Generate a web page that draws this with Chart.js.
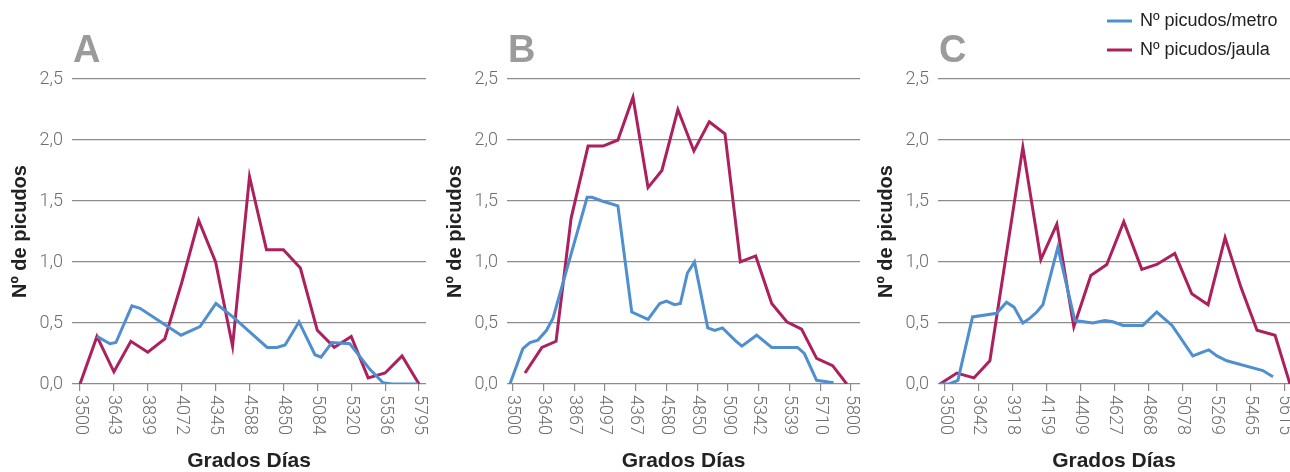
<!DOCTYPE html>
<html>
<head>
<meta charset="utf-8">
<script src="https://cdn.jsdelivr.net/npm/chart.js@4"></script>
<style>
  body { margin: 0; background: #fff; }
  #wrap { position: relative; width: 1290px; height: 472px; }
  canvas { position: absolute; top: 0; }
</style>
</head>
<body>
<div id="wrap">
  <canvas id="chartA" width="435" height="472" style="left:0px"></canvas>
  <canvas id="chartB" width="431" height="472" style="left:435px"></canvas>
  <canvas id="chartC" width="424" height="472" style="left:866px"></canvas>
</div>
<script>
// tick labels (Grados Días) for each panel, one per category slot
const labelsA = ['3500', '3643', '3839', '4072', '4345', '4588', '4850', '5084', '5320', '5536', '5795'];
const labelsB = ['3500', '3640', '3867', '4097', '4367', '4580', '4850', '5090', '5342', '5539', '5710', '5800'];
const labelsC = ['3500', '3642', '3918', '4159', '4409', '4627', '4868', '5078', '5269', '5465', '5615'];

// positions are in category slots (0 = first label), values are picudos
const metroPosA = [0.5, 0.88, 1.06, 1.53, 1.77, 2.98, 3.54, 4.01, 4.51, 5.52, 5.81, 6.05, 6.46, 6.93, 7.11, 7.43, 7.96, 8.55, 8.94, 9.2, 9.97];
const metroA    = [0.39, 0.33, 0.34, 0.64, 0.62, 0.40, 0.47, 0.66, 0.55, 0.30, 0.30, 0.32, 0.51, 0.24, 0.22, 0.34, 0.33, 0.12, 0.01, 0.0, 0.0];
const jaulaPosA = [0, 0.5, 1, 1.5, 2, 2.5, 3, 3.5, 4, 4.5, 5, 5.5, 6, 6.5, 7, 7.5, 8, 8.5, 9, 9.5, 10];
const jaulaA    = [0, 0.39, 0.10, 0.35, 0.26, 0.37, 0.83, 1.34, 1.0, 0.31, 1.70, 1.10, 1.10, 0.95, 0.44, 0.30, 0.39, 0.05, 0.09, 0.23, 0.0];

const metroPosB = [-0.09, 0.33, 0.56, 0.82, 1.1, 1.31, 2.42, 2.58, 2.9, 3.42, 3.87, 4.4, 4.78, 5.0, 5.26, 5.45, 5.68, 5.91, 6.34, 6.57, 6.82, 7.22, 7.45, 7.93, 8.42, 9.26, 9.48, 9.88, 10.43];
const metroB    = [0, 0.29, 0.34, 0.36, 0.44, 0.54, 1.53, 1.53, 1.50, 1.46, 0.59, 0.53, 0.66, 0.68, 0.65, 0.66, 0.91, 1.0, 0.46, 0.44, 0.46, 0.36, 0.31, 0.40, 0.30, 0.30, 0.25, 0.03, 0.01];
const jaulaPosB = [0.4, 0.95, 1.41, 1.9, 2.45, 2.94, 3.42, 3.91, 4.4, 4.85, 5.37, 5.89, 6.39, 6.9, 7.4, 7.9, 8.42, 8.91, 9.39, 9.88, 10.4, 10.86];
const jaulaB    = [0.09, 0.30, 0.35, 1.36, 1.95, 1.95, 2.0, 2.35, 1.61, 1.75, 2.25, 1.91, 2.15, 2.05, 1.0, 1.05, 0.66, 0.51, 0.45, 0.21, 0.15, 0.0];

const metroPosC = [-0.15, 0.12, 0.38, 0.81, 1.52, 1.81, 2.03, 2.29, 2.5, 2.7, 2.88, 3.32, 3.82, 4.35, 4.7, 4.94, 5.24, 5.53, 5.82, 6.23, 6.68, 7.29, 7.56, 7.76, 8.0, 8.29, 9.35, 9.65];
const metroC    = [0, 0, 0.03, 0.55, 0.58, 0.67, 0.63, 0.50, 0.54, 0.59, 0.65, 1.12, 0.52, 0.50, 0.52, 0.51, 0.48, 0.48, 0.48, 0.59, 0.48, 0.23, 0.26, 0.28, 0.23, 0.19, 0.11, 0.06];
const jaulaPosC = [-0.15, 0.35, 0.85, 1.32, 2.29, 2.82, 3.29, 3.79, 4.29, 4.76, 5.26, 5.79, 6.23, 6.76, 7.26, 7.74, 8.24, 8.71, 9.18, 9.71, 10.15];
const jaulaC    = [0, 0.09, 0.05, 0.19, 1.94, 1.02, 1.31, 0.47, 0.89, 0.98, 1.33, 0.94, 0.98, 1.07, 0.74, 0.65, 1.20, 0.79, 0.44, 0.40, 0.0];

const yTicks = [0, 0.5, 1, 1.5, 2, 2.5];
const seriesNames = ['Nº picudos/metro', 'Nº picudos/jaula'];

const BLUE = '#4f8fcf';
const RED = '#ac215d';
const GRID = '#8c8c8c';
const LIGHT = "300 18px 'Roboto', 'Liberation Sans', sans-serif";
const BOLD = "'Liberation Sans', Arial, sans-serif";

function points(xs, ys) {
  return xs.map((x, i) => ({ x: x, y: ys[i] }));
}

// panel letter, rotated x tick labels and (optionally) the legend
const panelDecor = {
  id: 'panelDecor',
  afterDraw(chart, args, opts) {
    const ctx = chart.ctx;
    const area = chart.chartArea;
    const xs = chart.scales.x;
    ctx.save();
    ctx.fillStyle = '#9b9b9b';
    ctx.font = 'bold 38px ' + BOLD;
    ctx.textAlign = 'left';
    ctx.textBaseline = 'alphabetic';
    ctx.fillText(opts.letter, area.left + 1, 62);

    ctx.fillStyle = '#6e6e6e';
    ctx.font = LIGHT;
    ctx.textBaseline = 'middle';
    opts.labels.forEach((lab, i) => {
      const px = xs.getPixelForValue(i);
      ctx.save();
      ctx.translate(px, area.bottom + 11);
      ctx.rotate(Math.PI / 2);
      ctx.fillText(lab, 0, 0);
      ctx.restore();
    });

    if (opts.legend) {
      ctx.font = "18px 'Liberation Sans', Arial, sans-serif";
      ctx.textBaseline = 'middle';
      chart.data.datasets.forEach((ds, i) => {
        const y = 21 + i * 29;
        ctx.strokeStyle = ds.borderColor;
        ctx.lineWidth = 3;
        ctx.beginPath();
        ctx.moveTo(opts.legend.x, y);
        ctx.lineTo(opts.legend.x + 25, y);
        ctx.stroke();
        ctx.fillStyle = '#222';
        ctx.fillText(ds.label, opts.legend.x + 33, y);
      });
    }
    ctx.restore();
  }
};

function makePanel(id, letter, labels, mPos, mVals, jPos, jVals, xMin, xMax, padRight, legend) {
  const ctx = document.getElementById(id).getContext('2d');
  return new Chart(ctx, {
    type: 'line',
    data: {
      datasets: [{
        label: seriesNames[0],
        data: points(mPos, mVals),
        borderColor: BLUE,
        backgroundColor: BLUE,
        borderWidth: 3,
        pointRadius: 0,
        tension: 0
      },
      {
        label: seriesNames[1],
        data: points(jPos, jVals),
        borderColor: RED,
        backgroundColor: RED,
        borderWidth: 3,
        pointRadius: 0,
        tension: 0
      }]
    },
    options: {
      responsive: false,
      animation: false,
      layout: { padding: { top: 79, right: padRight, left: 0, bottom: 0 } },
      plugins: {
        legend: { display: false },
        tooltip: { enabled: false },
        panelDecor: { letter: letter, labels: labels, legend: legend }
      },
      scales: {
        x: {
          type: 'linear',
          min: xMin,
          max: xMax,
          afterBuildTicks: (scale) => { scale.ticks = labels.map((_, i) => ({ value: i })); },
          afterFit: (scale) => { scale.height = 88; },
          ticks: { display: false },
          grid: { drawOnChartArea: false, drawTicks: true, tickLength: 7, color: GRID, lineWidth: 1.2 },
          border: { display: false },
          title: {
            display: true,
            text: 'Grados Días',
            color: '#222',
            font: { family: BOLD, size: 21, weight: 'bold', lineHeight: 1 },
            padding: { top: 0, bottom: 0 }
          }
        },
        y: {
          min: 0,
          max: 2.5,
          afterBuildTicks: (scale) => { scale.ticks = yTicks.map(v => ({ value: v })); },
          afterFit: (scale) => { scale.width = 72; },
          ticks: {
            padding: 9,
            color: '#6e6e6e',
            font: { family: "'Roboto', 'Liberation Sans', sans-serif", size: 18, weight: '300' },
            callback: (v) => v.toFixed(1).replace('.', ',')
          },
          grid: { color: GRID, lineWidth: 1.2, drawTicks: false },
          border: { display: false },
          title: {
            display: true,
            text: 'Nº de picudos',
            color: '#222',
            font: { family: BOLD, size: 20, weight: 'bold' },
            padding: { top: 8, bottom: 0 }
          }
        }
      }
    },
    plugins: [panelDecor]
  });
}

makePanel('chartA', 'A', labelsA, metroPosA, metroA, jaulaPosA, jaulaA, -0.236, 10.206, 9, null);
makePanel('chartB', 'B', labelsB, metroPosB, metroB, jaulaPosB, jaulaB, -0.185, 11.29, 6, null);
makePanel('chartC', 'C', labelsC, metroPosC, metroC, jaulaPosC, jaulaC, -0.206, 10.15, 0, { x: 241 });
</script>
</body>
</html>
